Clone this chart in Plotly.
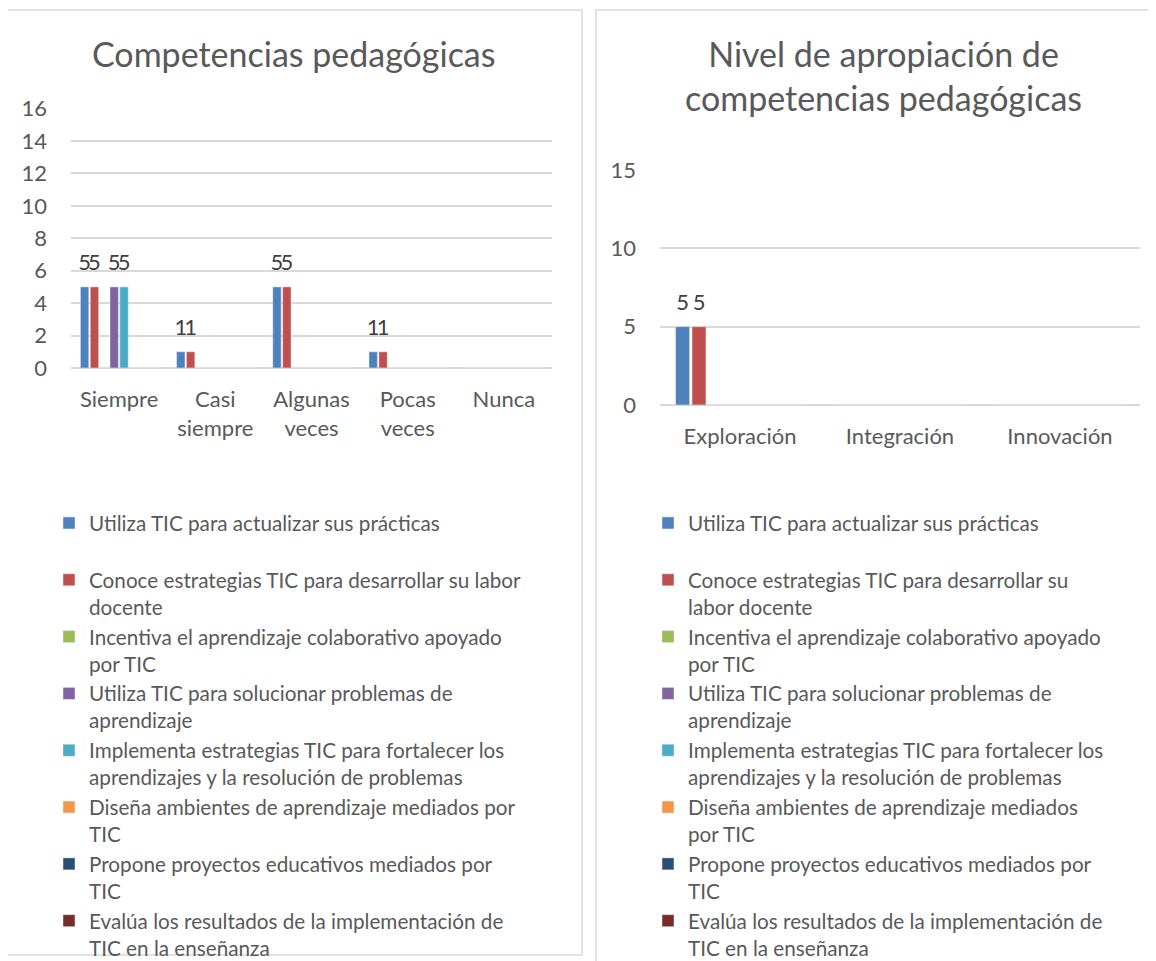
import plotly.graph_objects as go

# data
freq_categories = ["Siempre", "Casi<br>siempre", "Algunas<br>veces", "Pocas<br>veces", "Nunca"]
level_categories = ["Exploración", "Integración", "Innovación"]

series_names = [
    "Utiliza TIC para actualizar sus prácticas",
    "Conoce estrategias TIC para desarrollar su labor docente",
    "Incentiva el aprendizaje colaborativo apoyado por TIC",
    "Utiliza TIC para solucionar problemas de aprendizaje",
    "Implementa estrategias TIC para fortalecer los aprendizajes y la resolución de problemas",
    "Diseña ambientes de aprendizaje mediados por TIC",
    "Propone proyectos educativos mediados por TIC",
    "Evalúa los resultados de la implementación de TIC en la enseñanza",
]

# legend labels as wrapped in each chart
legend_left = [
    "Utiliza TIC para actualizar sus prácticas<br> ",
    "Conoce estrategias TIC para desarrollar su labor<br>docente",
    "Incentiva el aprendizaje colaborativo apoyado<br>por TIC",
    "Utiliza TIC para solucionar problemas de<br>aprendizaje",
    "Implementa estrategias TIC para fortalecer los<br>aprendizajes y la resolución de problemas",
    "Diseña ambientes de aprendizaje mediados por<br>TIC",
    "Propone proyectos educativos mediados por<br>TIC",
    "Evalúa los resultados de la implementación de<br>TIC en la enseñanza",
]
legend_right = [
    "Utiliza TIC para actualizar sus prácticas<br> ",
    "Conoce estrategias TIC para desarrollar su<br>labor docente",
    "Incentiva el aprendizaje colaborativo apoyado<br>por TIC",
    "Utiliza TIC para solucionar problemas de<br>aprendizaje",
    "Implementa estrategias TIC para fortalecer los<br>aprendizajes y la resolución de problemas",
    "Diseña ambientes de aprendizaje mediados<br>por TIC",
    "Propone proyectos educativos mediados por<br>TIC",
    "Evalúa los resultados de la implementación de<br>TIC en la enseñanza",
]

# rows: series, columns: Siempre, Casi siempre, Algunas veces, Pocas veces, Nunca
freq_values = [
    [5, 1, 5, 1, 0],
    [5, 1, 5, 1, 0],
    [0, 0, 0, 0, 0],
    [5, 0, 0, 0, 0],
    [5, 0, 0, 0, 0],
    [0, 0, 0, 0, 0],
    [0, 0, 0, 0, 0],
    [0, 0, 0, 0, 0],
]
# rows: series, columns: Exploración, Integración, Innovación
level_values = [
    [5, 0, 0],
    [5, 0, 0],
    [0, 0, 0],
    [0, 0, 0],
    [0, 0, 0],
    [0, 0, 0],
    [0, 0, 0],
    [0, 0, 0],
]

colors = ["#4F81BD", "#C0504D", "#9BBB59", "#8064A2", "#4BACC6", "#F79646", "#2C4D75", "#772C2A"]

# page has an 8px body margin, so the figure is a bit smaller than the window
OFF = 8
W, H = 1156 - OFF, 961 - OFF
FONT = "Lato"
GREY = "#595959"
TICK_SIZE = 22
LEGEND_SIZE = 20.7


def px_x(v):
    return (v - OFF) / W


def px_y(v):
    return 1 - (v - OFF) / H


def labels(vals):
    # big number with a small blank line below it, to lift the label off the bar
    return [f"<span style='font-size:{TICK_SIZE}px'>{v}</span><br>&nbsp;" if v else "" for v in vals]


fig = go.Figure()

for i, name in enumerate(series_names):
    fig.add_trace(
        go.Bar(
            x=freq_categories,
            y=freq_values[i],
            name=legend_left[i],
            marker=dict(color=colors[i]),
            text=labels(freq_values[i]),
            textposition="outside",
            constraintext="none",
            cliponaxis=False,
            textfont=dict(color="#404040", size=9, family=FONT),
            xaxis="x",
            yaxis="y",
            legend="legend",
        )
    )
    fig.add_trace(
        go.Bar(
            x=level_categories,
            y=level_values[i],
            name=legend_right[i],
            marker=dict(color=colors[i]),
            text=labels(level_values[i]),
            textposition="outside",
            constraintext="none",
            cliponaxis=False,
            textfont=dict(color="#404040", size=9, family=FONT),
            xaxis="x2",
            yaxis="y2",
            legend="legend2",
        )
    )

tick_font = dict(size=TICK_SIZE, color=GREY, family=FONT)
grid = dict(
    showgrid=True, gridcolor="#D9D9D9", gridwidth=2,
    zeroline=True, zerolinecolor="#D9D9D9", zerolinewidth=2,
    showline=False, ticks="", ticklabelstandoff=23, tickfont=tick_font,
)
cat_axis = dict(showgrid=False, showline=False, ticks="", ticklabelstandoff=16, tickfont=tick_font)
legend_common = dict(
    xanchor="left", yanchor="top",
    font=dict(size=LEGEND_SIZE, color=GREY, family=FONT),
    valign="top", itemwidth=30, tracegroupgap=0,
    bgcolor="rgba(0,0,0,0)",
)

fig.update_layout(
    width=W,
    height=H,
    margin=dict(l=0, r=0, t=0, b=0, autoexpand=False),
    paper_bgcolor="white",
    plot_bgcolor="white",
    font=dict(family=FONT, color=GREY),
    barmode="group",
    bargap=0.18,
    bargroupgap=0.15,
    xaxis=dict(domain=[px_x(71), px_x(552)], anchor="y", **cat_axis),
    yaxis=dict(domain=[px_y(368), px_y(108.5)], anchor="x", range=[0, 16], dtick=2, **grid),
    xaxis2=dict(domain=[px_x(660), px_x(1140)], anchor="y2", **cat_axis),
    yaxis2=dict(domain=[px_y(405), px_y(170)], anchor="x2", range=[0, 15], dtick=5, **grid),
    legend=dict(x=px_x(49), y=px_y(503), **legend_common),
    legend2=dict(x=px_x(648), y=px_y(503), **legend_common),
    showlegend=True,
)

# chart titles
fig.add_annotation(
    x=px_x(294), y=px_y(54), xref="paper", yref="paper",
    xanchor="center", yanchor="middle",
    text="Competencias pedagógicas", showarrow=False,
    font=dict(size=34, color=GREY, family=FONT),
)
fig.add_annotation(
    x=px_x(883), y=px_y(76), xref="paper", yref="paper",
    xanchor="center", yanchor="middle",
    text="Nivel de apropiación de<br>competencias pedagógicas", showarrow=False,
    font=dict(size=34, color=GREY, family=FONT),
)

# panel borders
fig.add_shape(type="rect", xref="paper", yref="paper",
              x0=px_x(7), x1=px_x(582), y0=px_y(955), y1=px_y(10),
              line=dict(color="#D9D9D9", width=1.5))
fig.add_shape(type="rect", xref="paper", yref="paper",
              x0=px_x(596), x1=px_x(1170), y0=px_y(975), y1=px_y(10),
              line=dict(color="#D9D9D9", width=1.5))

fig.write_html("out.html")
